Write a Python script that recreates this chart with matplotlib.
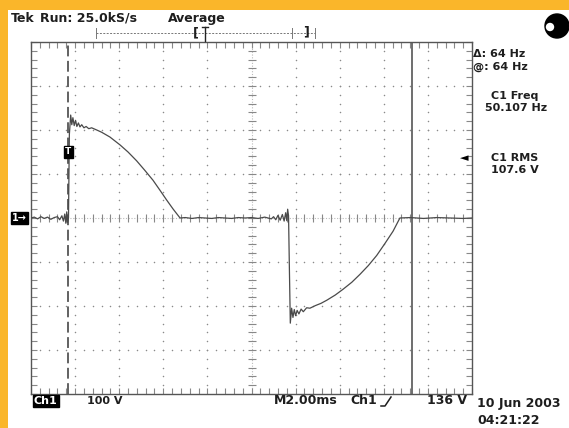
import numpy as np
import matplotlib
matplotlib.use("Agg")
import matplotlib.pyplot as plt
from matplotlib.patches import Rectangle, Circle

# scope settings
volts_per_div = 100
ms_per_div = 2.0
cursor_t = [1.68, 17.28]     # ms, dashed / solid cursor
trig_level = 150             # V, position of the T marker on the trace

# captured trace, time in ms from left edge, volts
trace_t = [0.0, 0.15, 0.3, 0.45, 0.6, 0.75, 0.9, 1.05, 1.2, 1.3, 1.4, 1.47, 1.53,
           1.58, 1.62, 1.66, 1.70, 1.74, 1.80, 1.85, 1.90, 1.96, 2.02, 2.08, 2.15,
           2.22, 2.30, 2.40, 2.50, 2.62, 2.75, 2.98, 3.20, 3.58, 4.04, 4.40, 4.79,
           5.15, 5.53, 5.85, 6.15, 6.45, 6.76, 7.0, 7.3, 7.6, 7.9, 8.2, 8.5, 8.8,
           9.1, 9.4, 9.7, 10.0, 10.3, 10.6, 10.9, 11.0, 11.1, 11.2, 11.3, 11.4,
           11.48, 11.55, 11.6, 11.64, 11.68, 11.72, 11.76, 11.82, 11.88, 11.94,
           12.0, 12.07, 12.15, 12.25, 12.35, 12.5, 12.65, 12.9, 13.15, 13.41,
           13.8, 14.15, 14.55, 14.92, 15.3, 15.68, 16.05, 16.42, 16.73, 17.2,
           17.8, 18.4, 19.0, 19.6, 20.0]
trace_v = [0, 2, -2, 3, -1, 2, -3, 1, 3, -4, 5, -7, 9,
           -12, 14, -10, 0, 190, 234, 212, 228, 210, 222, 208, 216,
           207, 212, 205, 208, 203, 205, 200, 195, 184, 166, 150, 130,
           109, 86, 63, 41, 20, 0, 1, -1, 1, 0, -1, 1, 0,
           -1, 1, 0, 1, -1, 2, -2, 3, -4, 6, -5, 8,
           -7, 12, -6, 20, 5, -120, -239, -205, -226, -208,
           -222, -210, -218, -207, -213, -204, -205, -199, -194, -187,
           -175, -162, -146, -128, -108, -85, -58, -30, 0, 1,
           -1, 1, 0, -1, 0]

W, H = 569, 428
gx0, gy0, gx1, gy1 = 31, 42, 472, 394   # graticule box in pixels

fig = plt.figure(figsize=(W / 100, H / 100), dpi=100, facecolor="white")
ax = fig.add_axes([gx0 / W, 1 - gy1 / H, (gx1 - gx0) / W, (gy1 - gy0) / H])
ax.set_xlim(0, 10 * ms_per_div)
ax.set_ylim(-4 * volts_per_div, 4 * volts_per_div)
for s in ax.spines.values():
    s.set_color("#555555")
    s.set_linewidth(1.0)

# border ticks every 1/5 division
ax.set_xticks(np.arange(0, 20.01, ms_per_div))
ax.set_xticks(np.arange(0, 20.01, ms_per_div / 5), minor=True)
ax.set_yticks(np.arange(-400, 401, volts_per_div))
ax.set_yticks(np.arange(-400, 401, volts_per_div / 5), minor=True)
ax.tick_params(which="both", direction="in", top=True, right=True, length=4,
               width=0.8, color="#888888", labelbottom=False, labelleft=False)

grid_kw = dict(s=1.2, color="#8a8a8a", linewidths=0, zorder=1)
ydots = np.arange(-400, 401, volts_per_div / 5)
xdots = np.arange(0, 20.01, ms_per_div / 5)
for gx in np.arange(ms_per_div, 20, ms_per_div):
    if abs(gx - 10) > 1e-6:
        ax.scatter(np.full(len(ydots), gx), ydots, **grid_kw)
for gy in np.arange(-300, 301, volts_per_div):
    if gy != 0:
        ax.scatter(xdots, np.full(len(xdots), gy), **grid_kw)

# centre cross with small ticks
ax.axvline(10, color="#bbbbbb", lw=0.8, ls=(0, (1, 1.5)), zorder=1)
ax.axhline(0, color="#bbbbbb", lw=0.8, ls=(0, (1, 1.5)), zorder=1)
ax.plot(np.full(len(ydots), 10), ydots, ls="none", marker="_", ms=6, mew=0.8,
        color="#888888", zorder=1)
ax.plot(xdots, np.zeros(len(xdots)), ls="none", marker="|", ms=6, mew=0.8,
        color="#888888", zorder=1)

# cursors
ax.axvline(cursor_t[0], color="#555555", lw=1.3, ls=(0, (6, 2.5)), zorder=2)
ax.axvline(cursor_t[1], color="#555555", lw=1.2, zorder=2)

# trace
ax.plot(trace_t, trace_v, color="#4a4a4a", lw=0.9, zorder=3)

# trigger T marker on trace
ax.text(cursor_t[0], trig_level, "T", color="white", fontsize=6.5,
        fontweight="bold", ha="center", va="center", zorder=5,
        bbox=dict(boxstyle="square,pad=0.15", fc="black", ec="black"))

# overlay in pixel coordinates for the screen furniture
ov = fig.add_axes([0, 0, 1, 1], facecolor="none")
ov.set_xlim(0, W)
ov.set_ylim(H, 0)
ov.axis("off")

orange = "#FAB62A"
ov.add_patch(Rectangle((0, 0), W, 10, color=orange, lw=0))
ov.add_patch(Rectangle((0, 0), 8, H, color=orange, lw=0))

txt = dict(color="#1e1e1e", fontsize=8, fontweight="bold", va="center",
           family="DejaVu Sans")
big = {**txt, "fontsize": 9}
ov.text(11, 18, "Tek", **{**txt, "fontsize": 9, "fontweight": "heavy"})
ov.text(40, 18, "Run: 25.0kS/s", **big)
ov.text(168, 18, "Average", **big)

# trigger position bar
ov.plot([96, 315], [33, 33], color="#777777", lw=0.7, ls=(0, (2, 1.5)))
for bx in [96, 292, 315]:
    ov.plot([bx, bx], [28, 38], color="#777777", lw=0.7)
ov.text(196, 33, "[", **{**txt, "ha": "center", "fontsize": 9})
ov.text(306, 32, "]", **{**txt, "ha": "center", "fontsize": 9})
ov.plot([202, 208], [27, 27], color="#222222", lw=1.0)
ov.plot([205, 205], [27, 41], color="#222222", lw=1.0)

# acquisition indicator
ov.add_patch(Circle((557, 26), 12, color="black"))
ov.add_patch(Circle((550, 27), 3.5, color="white"))

# right readouts
ov.text(473, 54, "\u0394: 64 Hz", **txt)
ov.text(473, 67, "@: 64 Hz", **txt)
ov.text(515, 96, "C1 Freq", ha="center", **txt)
ov.text(516, 108, "50.107 Hz", ha="center", **txt)
ov.text(515, 158, "C1 RMS", ha="center", **txt)
ov.text(515, 170, "107.6 V", ha="center", **txt)
ov.text(464, 158, "\u25c4", color="black", fontsize=8, ha="center", va="center")

# ground marker
ov.text(12, 218, "1\u2192", color="white", fontsize=7, fontweight="bold",
        va="center", bbox=dict(boxstyle="square,pad=0.15", fc="black", ec="black"))

# bottom readouts
ov.text(34, 401, "Ch1", color="white", fontsize=8, fontweight="bold", va="center",
        bbox=dict(boxstyle="square,pad=0.12", fc="black", ec="black"))
ov.text(87, 401, "100 V", **txt)
ov.text(274, 401, "M2.00ms", **big)
ov.text(350, 401, "Ch1", **big)
ov.plot([381, 385, 391, 391], [406, 406, 397, 397], color="#1e1e1e", lw=1.1)
ov.text(467, 401, "136 V", ha="right", **big)
ov.text(477, 404, "10 Jun 2003", **big)
ov.text(477, 420, "04:21:22", **big)

fig.savefig("out.png", dpi=100, facecolor="white")
